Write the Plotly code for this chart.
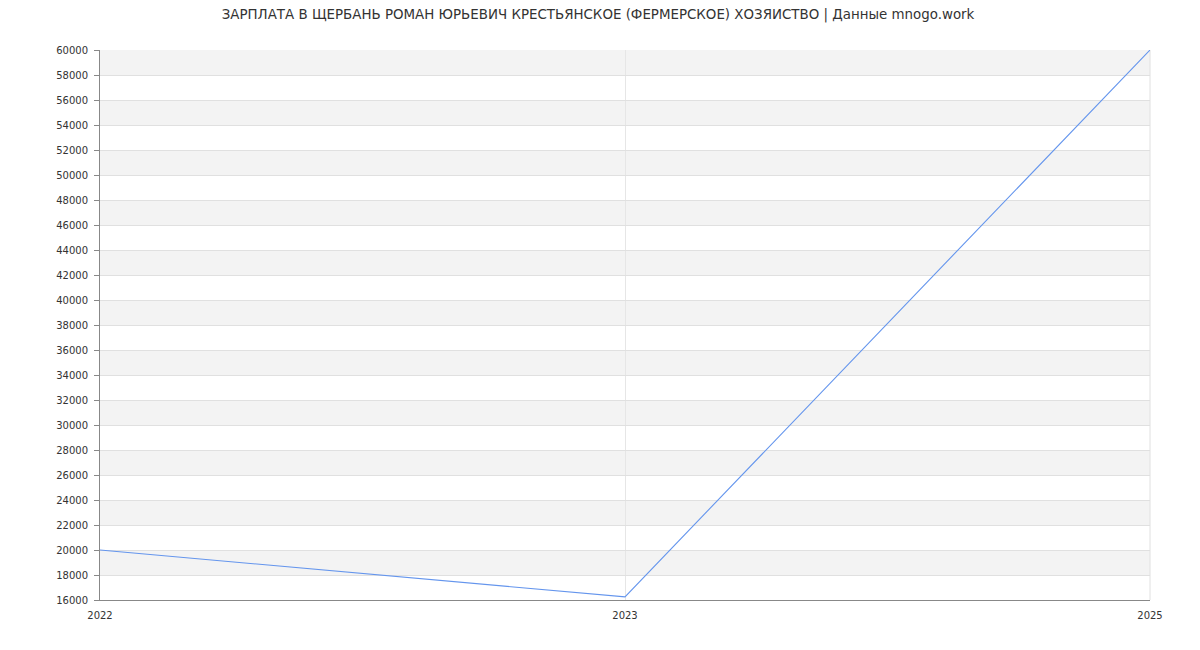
import plotly.graph_objects as go

years = ["2022", "2023", "2025"]
salary = [20000, 16250, 60000]
y_min, y_max, y_step = 16000, 60000, 2000

fig = go.Figure()
fig.add_trace(go.Scatter(x=years, y=salary, mode="lines",
                         line=dict(color="#6495ED", width=1.1), hoverinfo="x+y"))

# alternating bands
shapes = []
v = y_min + y_step
while v < y_max:
    shapes.append(dict(type="rect", xref="paper", yref="y", x0=0, x1=1,
                       y0=v, y1=v + y_step, fillcolor="#f3f3f3",
                       line=dict(width=0), layer="below"))
    v += 2 * y_step
# right edge border
shapes.append(dict(type="line", xref="paper", yref="paper", x0=1, x1=1, y0=0, y1=1,
                   line=dict(color="#e0e0e0", width=1), layer="below"))

fig.update_layout(
    width=1200, height=650,
    margin=dict(l=92, r=58, t=42, b=58),
    paper_bgcolor="white", plot_bgcolor="white",
    showlegend=False,
    shapes=shapes,
    font=dict(family="DejaVu Sans", size=11, color="#333333"),
    title=dict(text="ЗАРПЛАТА В ЩЕРБАНЬ РОМАН ЮРЬЕВИЧ КРЕСТЬЯНСКОЕ (ФЕРМЕРСКОЕ) ХОЗЯЙСТВО | Данные mnogo.work",
               x=0.4917, xanchor="center", yref="container", y=0.998, yanchor="top",
               font=dict(family="DejaVu Sans", size=13.4, color="#333333")),
    xaxis=dict(type="category", range=[0, 2], showgrid=True, gridcolor="#e6e6e6",
               showline=True, linecolor="#888888", linewidth=1,
               ticks="", ticklabelstandoff=6, tickfont=dict(size=10), zeroline=False),
    yaxis=dict(range=[y_min, y_max], dtick=y_step, tick0=y_min, tickformat="d",
               showgrid=True, gridcolor="#e0e0e0", showline=True,
               linecolor="#888888", linewidth=1,
               ticks="outside", ticklen=5, tickcolor="#888888", ticklabelstandoff=4,
               tickfont=dict(size=10), zeroline=False),
)

fig.write_html("out.html")
